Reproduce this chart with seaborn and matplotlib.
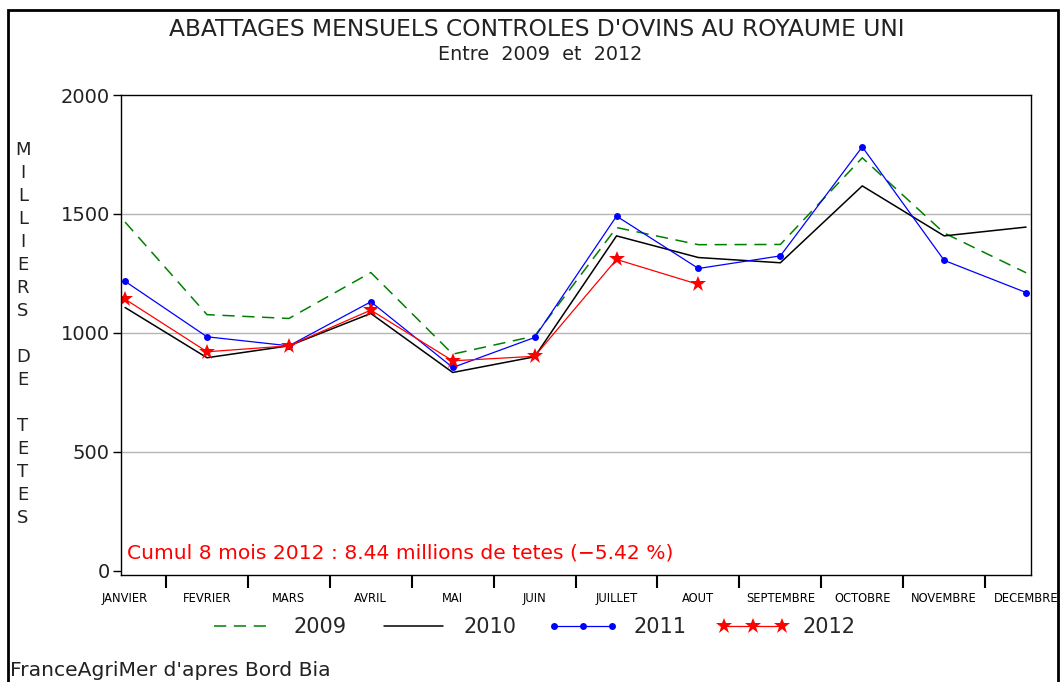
import numpy as np
import pandas as pd
import matplotlib
matplotlib.use("Agg")
import matplotlib.pyplot as plt
import seaborn as sns
from matplotlib.patches import Rectangle

# Data (milliers de tetes)
months = ["JANVIER", "FEVRIER", "MARS", "AVRIL", "MAI", "JUIN", "JUILLET",
          "AOUT", "SEPTEMBRE", "OCTOBRE", "NOVEMBRE", "DECEMBRE"]
y2009 = [1466, 1077, 1061, 1254, 911, 987, 1443, 1371, 1372, 1736, 1420, 1253]
y2010 = [1107, 896, 946, 1082, 834, 900, 1408, 1317, 1295, 1618, 1408, 1445]
y2011 = [1217, 984, 946, 1131, 855, 981, 1491, 1271, 1324, 1782, 1305, 1170]
y2012 = [1142, 921, 946, 1096, 883, 902, 1309, 1204]

W, H = 1061, 682
sns.set_style("white")
plt.rcParams['font.family'] = ['DejaVu Sans']

fig = plt.figure(figsize=(W / 100, H / 100), dpi=100)
ax = fig.add_axes([121 / W, 1 - 575 / H, 910 / W, 480 / H])

x = np.arange(len(months))
sns.lineplot(x=x, y=y2009, ax=ax, color="green", lw=1.1, dashes=False,
             linestyle=(0, (8, 5)), label="2009")
sns.lineplot(x=x, y=y2010, ax=ax, color="black", lw=1.1, label="2010")
sns.lineplot(x=x, y=y2011, ax=ax, color="blue", lw=0.9, marker="o",
             markersize=5, markeredgewidth=0, label="2011")
sns.lineplot(x=x[:len(y2012)], y=y2012, ax=ax, color="red", lw=0.9, marker="*",
             markersize=12, markeredgewidth=0, label="2012")

# axes
ax.set_xlim(-0.05, 11.06)
ax.set_ylim(-17, 2000)
ax.set_yticks([0, 500, 1000, 1500, 2000])
ax.set_yticklabels(["0", "500", "1000", "1500", "2000"], fontsize=14, color="#222222")
ax.tick_params(axis="y", direction="out", length=6, width=1, color="black", pad=2, left=True)
ax.set_xticks(x)
ax.set_xticklabels(months, fontsize=8.3, color="black")
ax.tick_params(axis="x", which="major", length=0, pad=12)
ax.set_xticks(x[:-1] + 0.5, minor=True)
ax.tick_params(axis="x", which="minor", direction="out", length=9, width=1.5,
               color="black", bottom=True)
for v in [500, 1000, 1500]:
    ax.axhline(v, color="#b4b4b4", lw=1, zorder=0)
for s in ax.spines.values():
    s.set_color("black")
    s.set_linewidth(1)
ax.set_xlabel("")
ax.set_ylabel("")

# legend
handles, labels = ax.get_legend_handles_labels()
ax.get_legend().remove()
fig.legend(handles, labels, loc="center", bbox_to_anchor=(532 / W, 1 - 627 / H),
           ncol=4, frameon=False, fontsize=15, handlelength=3.4, numpoints=3,
           columnspacing=1.5, handletextpad=0.7)

# texts
fig.text(537 / W, 1 - 30 / H, "ABATTAGES MENSUELS CONTROLES D'OVINS AU ROYAUME UNI",
         ha="center", va="center", fontsize=16.8, color="#222222")
fig.text(540 / W, 1 - 55 / H, "Entre  2009  et  2012", ha="center", va="center",
         fontsize=13.8, color="#222222")
fig.text(127 / W, 1 - 553 / H,
         "Cumul 8 mois 2012 : 8.44 millions de tetes (\u22125.42 %)",
         ha="left", va="center", fontsize=14.6, color="red")
fig.text(10 / W, 1 - 670 / H, "FranceAgriMer d'apres Bord Bia", ha="left",
         va="center", fontsize=14.6, color="#222222")
ylab = "\n".join(list("MILLIERS") + [""] + list("DE") + [""] + list("TETES"))
fig.text(23 / W, 1 - 334 / H, ylab, ha="center", va="center", fontsize=13,
         linespacing=1.36, color="#222222")

# outer frame
fig.patches.append(Rectangle((8 / W, -0.1), 1050 / W, 1.1 - 10 / H,
                             transform=fig.transFigure, fill=False,
                             edgecolor="black", lw=2))

fig.savefig("out.png", dpi=100)
